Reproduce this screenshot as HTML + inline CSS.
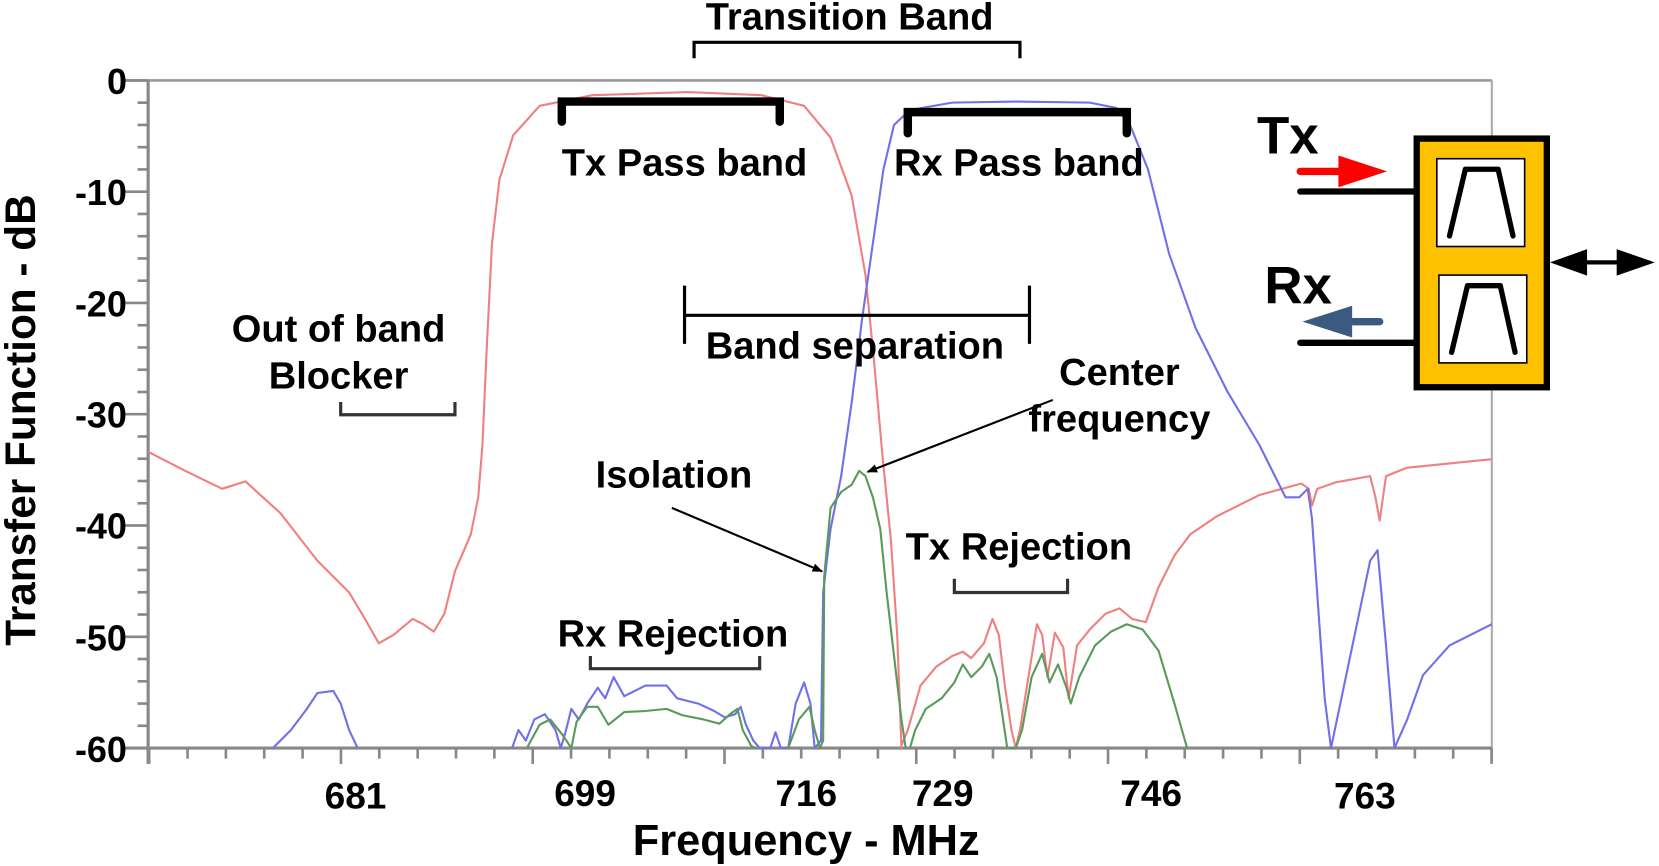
<!DOCTYPE html>
<html><head><meta charset="utf-8"><style>
html,body{margin:0;padding:0;background:#fff;width:1659px;height:866px;overflow:hidden}
svg{display:block}
text{font-family:"Liberation Sans",Arial,sans-serif;font-weight:bold;fill:#000}
</style></head><body>
<svg width="1659" height="866" viewBox="0 0 1568 818.5" preserveAspectRatio="none">
<defs>
<marker id="ah" markerWidth="10" markerHeight="8" refX="9" refY="4" orient="auto" markerUnits="userSpaceOnUse" viewBox="0 0 10 8">
<path d="M0,0 L10,4 L0,8 z" fill="#000"/></marker>
</defs>
<line x1="118" y1="76" x2="1410" y2="76" stroke="#999" stroke-width="2.5"/>
<line x1="1410" y1="76" x2="1410" y2="720" stroke="#aaa" stroke-width="2"/>
<line x1="140" y1="76" x2="140" y2="722" stroke="#888" stroke-width="3"/>
<line x1="118" y1="707" x2="1410" y2="707" stroke="#888" stroke-width="3"/>
<g id="yt" stroke="#888" stroke-width="2.5"></g>
<g id="xt" stroke="#888" stroke-width="2.5"></g>
<g font-size="34" text-anchor="end">
<text x="120" y="89">0</text><text x="120" y="194">-10</text><text x="120" y="299">-20</text>
<text x="120" y="404">-30</text><text x="120" y="509">-40</text><text x="120" y="615">-50</text><text x="120" y="720">-60</text>
</g>
<g font-size="35" text-anchor="middle">
<text x="336" y="764">681</text><text x="553" y="762">699</text><text x="762" y="762">716</text>
<text x="891" y="762">729</text><text x="1088" y="762">746</text><text x="1290" y="764">763</text>
</g>
<text x="762" y="808" font-size="41" text-anchor="middle">Frequency - MHz</text>
<text transform="translate(33,397) rotate(-90)" font-size="40" text-anchor="middle">Transfer Function - dB</text>

<g fill="none" stroke-width="2" stroke-linejoin="round">
<polyline stroke="#f08080" points="140,427 175,445 210,462 232,455 265,485 300,530 330,560 345,585 358,608 372,600 390,585 400,590 410,597 420,580 430,540 445,505 452,470 456,420 460,330 465,230 472,170 485,128 510,100 560,90 650,87 720,90 760,100 785,130 805,185 818,260 826,340 834,430 842,510 848,600 852,707"/>
<polyline stroke="#f08080" points="851,707 858,690 870,648 885,630 900,620 910,616 918,622 930,608 938,585 944,600 950,650 956,690 960,707 964,690 972,640 980,590 985,600 990,640 997,598 1005,612 1010,660 1018,610 1030,595 1045,580 1058,575 1070,585 1083,588 1095,555 1110,525 1125,505 1150,488 1190,468 1230,457 1237,462 1240,478 1245,462 1262,456 1295,450 1300,470 1304,492 1310,450 1330,442 1370,438 1410,434"/>
<polyline stroke="#7070e8" points="258,707 275,690 290,670 300,655 315,653 322,665 330,690 338,707"/>
<polyline stroke="#7070e8" points="484,707 490,690 497,700 505,680 515,675 525,690 530,707 535,690 540,670 547,680 555,665 565,650 572,660 580,640 590,658 610,648 630,648 640,660 660,665 675,672 685,678 695,675 700,668 705,685 712,700 718,707 728,707 733,692 738,707 745,707 752,665 760,645 766,665 770,707 776,700 778,560 785,500 795,450 805,380 815,300 825,230 835,160 845,118 860,104 900,97 960,96 1030,97 1055,102 1068,118 1085,160 1105,240 1130,310 1160,370 1190,420 1215,470 1228,470 1236,462 1240,490 1247,590 1252,660 1258,707 1295,530 1302,520 1310,610 1318,707 1330,680 1345,638 1370,610 1410,590"/>
<polyline stroke="#5a9a5a" points="498,707 510,685 520,680 532,695 540,707 545,682 555,668 565,668 575,685 590,673 610,672 630,670 645,676 665,680 680,684 690,675 697,670 702,690 710,705 714,707"/>
<polyline stroke="#5a9a5a" points="745,707 755,680 765,668 770,690 775,707 778,700 779,545 785,480 795,465 805,458 812,445 818,450 825,470 832,500 838,560 845,620 852,680 856,707"/>
<polyline stroke="#5a9a5a" points="860,707 865,690 875,670 890,660 902,645 910,628 918,640 928,630 935,618 942,640 948,680 952,707 960,707 966,690 975,640 985,618 992,645 1000,628 1008,650 1012,665 1020,640 1035,610 1050,597 1065,590 1080,595 1095,615 1110,665 1122,707"/>
</g>

<g font-size="36" text-anchor="middle">
<text x="803" y="28">Transition Band</text>
<text x="647" y="166">Tx Pass band</text>
<text x="963" y="166">Rx Pass band</text>
<text x="808" y="339">Band separation</text>
<text x="320" y="323">Out of band</text>
<text x="320" y="367">Blocker</text>
<text x="1058" y="364">Center</text>
<text x="1058" y="408">frequency</text>
<text x="637" y="461">Isolation</text>
<text x="963" y="529">Tx Rejection</text>
<text x="636" y="611">Rx Rejection</text>
</g>
<g fill="none" stroke="#000">
<path d="M656,55 V40 H964 V55" stroke-width="3"/>
<path d="M531,115 V96 H737 V115" stroke-width="8" stroke-linecap="round"/>
<path d="M858,126 V106 H1065 V126" stroke-width="8" stroke-linecap="round"/>
<path d="M647,270 V325 M647,298 H973 M973,270 V325" stroke-width="3"/>
<path d="M322,380 V392 H430 V380" stroke="#333" stroke-width="3"/>
<path d="M902,547 V560 H1009 V547" stroke="#333" stroke-width="3"/>
<path d="M558,620 V632 H718 V620" stroke="#333" stroke-width="3"/>
<line x1="995" y1="378" x2="820" y2="446" stroke-width="2" marker-end="url(#ah)"/>
<line x1="635" y1="480" x2="777" y2="540" stroke-width="2" marker-end="url(#ah)"/>
</g>

<text x="1188" y="145" font-size="50">Tx</text>
<text x="1195" y="287" font-size="50">Rx</text>
<line x1="1229" y1="162" x2="1268" y2="162" stroke="#f00" stroke-width="7" stroke-linecap="round"/>
<polygon points="1265,147 1311,162 1265,177" fill="#f00"/>
<line x1="1304" y1="304" x2="1275" y2="304" stroke="#3a5a80" stroke-width="7" stroke-linecap="round"/>
<polygon points="1278,289 1231,304 1278,319" fill="#3a5a80"/>
<line x1="1229" y1="181" x2="1336" y2="181" stroke="#000" stroke-width="6" stroke-linecap="round"/>
<line x1="1229" y1="324" x2="1336" y2="324" stroke="#000" stroke-width="6" stroke-linecap="round"/>
<rect x="1339" y="131" width="123" height="235" fill="#fdc100" stroke="#000" stroke-width="6"/>
<rect x="1358" y="150" width="83" height="83" fill="#fff" stroke="#000" stroke-width="1.5"/>
<rect x="1360" y="260" width="83" height="83" fill="#fff" stroke="#000" stroke-width="1.5"/>
<polyline points="1370,223 1385,160 1416,160 1430,223" fill="none" stroke="#000" stroke-width="5" stroke-linecap="round" stroke-linejoin="round"/>
<polyline points="1372,333 1387,270 1418,270 1432,333" fill="none" stroke="#000" stroke-width="5" stroke-linecap="round" stroke-linejoin="round"/>
<line x1="1495" y1="248" x2="1535" y2="248" stroke="#000" stroke-width="4"/>
<polygon points="1465,248 1500,235.5 1500,260.5" fill="#000"/>
<polygon points="1564,248 1528,235.5 1528,260.5" fill="#000"/>
</svg>
<script>
(function(){
var ns="http://www.w3.org/2000/svg";
var yt=document.getElementById("yt"),xt=document.getElementById("xt");
for(var d=0;d<=60;d+=2){var y=76+d*10.517;var l=document.createElementNS(ns,"line");
var len=(d%10==0)?22:10;l.setAttribute("x1",140-len);l.setAttribute("x2",140);l.setAttribute("y1",y);l.setAttribute("y2",y);yt.appendChild(l);}
for(var k=0;k<=35;k++){var x=141+k*36.25;if(x>1411)break;var l=document.createElementNS(ns,"line");
l.setAttribute("x1",x);l.setAttribute("x2",x);l.setAttribute("y1",707);l.setAttribute("y2",(k%5==0)?722:717);xt.appendChild(l);}
})();
</script>
</body></html>
